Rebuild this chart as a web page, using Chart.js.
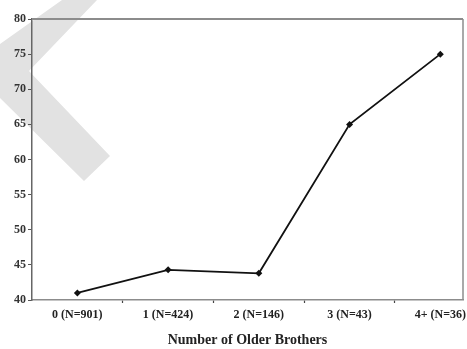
<!DOCTYPE html>
<html>
<head>
<meta charset="utf-8">
<script src="https://cdn.jsdelivr.net/npm/chart.js@4"></script>
<style>
html,body{margin:0;padding:0;background:#fff;}
#wrap{width:467px;height:349px;}
</style>
</head>
<body>
<div id="wrap"><canvas id="c" width="467" height="349"></canvas></div>
<script>
const categories = ["0 (N=901)", "1 (N=424)", "2 (N=146)", "3 (N=43)", "4+ (N=36)"];
const values = [41.0, 44.3, 43.8, 65.0, 75.0];
const yTicks = [40, 45, 50, 55, 60, 65, 70, 75, 80];
const xTitle = "Number of Older Brothers";

const serif = "'Liberation Serif', 'Times New Roman', serif";

const watermark = {
  id: 'watermark',
  beforeDraw(chart) {
    const ctx = chart.ctx;
    ctx.save();
    ctx.fillStyle = '#e2e2e2';
    ctx.beginPath();
    ctx.moveTo(62, 0); ctx.lineTo(97, 0); ctx.lineTo(29, 71);
    ctx.lineTo(110, 156); ctx.lineTo(84, 181); ctx.lineTo(0, 98);
    ctx.lineTo(0, 44); ctx.closePath();
    ctx.fill();
    ctx.restore();
  }
};

const frame = {
  id: 'frame',
  afterDatasetsDraw(chart) {
    const a = chart.chartArea, ctx = chart.ctx;
    ctx.save();
    ctx.strokeStyle = '#8c8c8c';
    ctx.lineWidth = 2;
    ctx.beginPath();
    ctx.moveTo(a.left, a.top); ctx.lineTo(a.right, a.top);
    ctx.stroke();
    ctx.lineWidth = 1.5;
    ctx.beginPath();
    ctx.moveTo(a.right, a.top); ctx.lineTo(a.right, a.bottom);
    ctx.stroke();
    ctx.restore();
  }
};

new Chart(document.getElementById('c'), {
  type: 'line',
  data: {
    datasets: [{
      data: values.map((v, i) => ({x: i, y: v})),
      borderColor: '#111',
      backgroundColor: '#111',
      borderWidth: 1.8,
      pointStyle: 'rectRot',
      pointRadius: 3.5,
      pointBorderWidth: 0,
      tension: 0
    }]
  },
  options: {
    responsive: false,
    animation: false,
    devicePixelRatio: 1,
    layout: {padding: {top: 19, right: 4, left: 0, bottom: 0}},
    plugins: {legend: {display: false}, tooltip: {enabled: false}},
    scales: {
      x: {
        type: 'linear',
        min: -0.5,
        max: 4.25,
        afterBuildTicks(scale) {
          const t = [];
          categories.forEach((c, i) => {
            t.push({value: i});
            if (i < categories.length - 1) t.push({value: i + 0.5});
          });
          scale.ticks = t;
        },
        afterFit(scale) {
          scale.height = 49;
          scale.paddingLeft = 0;
          scale.paddingRight = 0;
        },
        ticks: {
          autoSkip: false,
          maxRotation: 0,
          padding: 5,
          color: '#222',
          font: {family: serif, size: 12, weight: 'bold'},
          callback(v) { return Number.isInteger(v) ? categories[v] : ''; }
        },
        grid: {
          drawOnChartArea: false,
          tickLength: 3,
          tickWidth: 1.2,
          tickColor: (ctx) => (ctx.tick && !Number.isInteger(ctx.tick.value)) ? '#444' : 'rgba(0,0,0,0)'
        },
        border: {color: '#8c8c8c', width: 1.5},
        title: {
          display: true,
          text: xTitle,
          color: '#222',
          font: {family: serif, size: 14, weight: 'bold'},
          padding: {top: 4, bottom: 0}
        }
      },
      y: {
        min: 40,
        max: 80,
        afterBuildTicks(scale) { scale.ticks = yTicks.map(v => ({value: v})); },
        afterFit(scale) { scale.width = 32; },
        ticks: {
          padding: 2,
          color: '#333',
          font: {family: serif, size: 12, weight: 'bold'}
        },
        grid: {drawOnChartArea: false, tickLength: 4, tickColor: '#555', tickWidth: 1},
        border: {color: '#666', width: 1.5}
      }
    }
  },
  plugins: [watermark, frame]
});
</script>
</body>
</html>
